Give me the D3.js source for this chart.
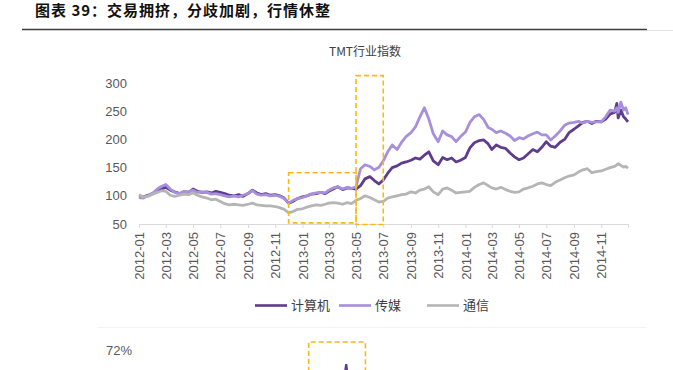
<!DOCTYPE html>
<html><head><meta charset="utf-8">
<script src="https://cdn.jsdelivr.net/npm/d3@7"></script>
<style>body{margin:0;background:#fff} svg{display:block}</style>
</head><body>
<svg id="c" width="673" height="370"></svg>
<script>
// ---- data ----
const titleText = "图表 39：交易拥挤，分歧加剧，行情休整";
const chartTitle = "TMT行业指数";
const seriesNames = ["计算机", "传媒", "通信"];
// sample days within each month (2012-01 .. 2014-11), then explicit Dec 2014 dates
const sampleDays = [1, 11, 21];
const decDates = ["2014-12-01","2014-12-06","2014-12-09","2014-12-15","2014-12-21","2014-12-26","2014-12-31"];
const computer = [
  100,98,101, 104,108,112, 115,110,107, 104,107,106, 112,108,106, 107,105,108, 106,104,101, 100,102,99, 104,110,105, 102,104,101, 102,100,96, 87,90,95,
  98,100,103, 104,106,104, 108,112,116, 111,114,113, 112,118,130, 134,127,121, 128,140,150, 153,158,160, 163,167,165, 172,178,162, 155,168,164, 167,160,163,
  168,185,194, 198,199,192, 182,190,186, 184,176,169, 164,167,174, 182,178,186, 196,188,186, 195,200,212, 218,224,230, 232,228,232, 231,236,245,
  248,264,238,252,240,236,231
];
const media = [
  97,96,100, 105,112,117, 120,112,106, 104,108,107, 110,106,107, 106,103,104, 102,100,98, 100,98,101, 104,109,103, 101,102,100, 101,99,95, 87,92,95,
  97,100,103, 105,106,105, 110,114,116, 112,115,113, 116,148,155, 152,146,150, 162,178,190, 182,195,205, 212,222,240, 256,236,210, 196,215,208, 205,196,205,
  213,230,240, 244,235,221, 218,212,215, 211,206,198, 203,201,206, 210,213,208, 208,199,206, 215,225,229, 230,232,229, 232,230,231, 231,240,252,
  250,256,248,266,252,256,244
];
const telecom = [
  102,98,99, 103,106,109, 108,101,99, 101,103,102, 105,101,98, 96,93,94, 90,86,84, 85,84,83, 85,87,84, 83,82,82, 81,79,76, 70,72,76,
  77,80,82, 84,83,85, 87,88,87, 85,88,86, 92,95,100, 97,93,89, 90,96,98, 100,102,103, 107,105,110, 112,116,107, 102,112,114, 110,105,106,
  107,108,115, 120,123,118, 114,112,115, 111,108,106, 107,112,114, 117,121,123, 120,118,124, 128,132,135, 137,142,146, 148,141,143, 144,147,150,
  152,155,157,154,151,152,149
];
const yTicks = [50, 100, 150, 200, 250, 300];
const xDomain = ["2012-01-01", "2014-12-31"];
const yDomain = [50, 300];
// highlight boxes (date range, value range)
const boxStart = ["2012-12-01", "2013-05-01"];
const boxEnd   = ["2013-05-01", "2013-07-01"];
const boxLow   = [52, 49];
const boxHigh  = [141, 313];
// second (cut-off) panel
const bottomTick = "72%";
const bottomBox = ["2013-01-15", "2013-05-22"];
const bottomDates = ["2013-04-05", "2013-04-09", "2013-04-13"];
const bottomValues = [40, 55, 38];

// ---- build ----
const parse = d3.timeParse("%Y-%m-%d");
const dates = [];
for (let y = 2012; y <= 2014; y++) {
  for (let m = 0; m < 12; m++) {
    if (y === 2014 && m === 11) break;
    sampleDays.forEach(d => dates.push(new Date(y, m, d)));
  }
}
decDates.forEach(s => dates.push(parse(s)));

const svg = d3.select("#c");
const colors = ["#5f3d8e", "#a88fdc", "#b5b5b5"];
const x = d3.scaleTime().domain(xDomain.map(parse)).range([139, 628]);
const y = d3.scaleLinear().domain(yDomain).range([224, 83]);

// page title
svg.append("text").attr("x", 35).attr("y", 16)
  .attr("font-family", "Noto Sans CJK SC").attr("font-weight", "bold")
  .attr("font-size", 15).attr("letter-spacing", 1).attr("fill", "#111").text(titleText);
svg.append("line").attr("x1", 22).attr("x2", 647).attr("y1", 29.5).attr("y2", 29.5)
  .attr("stroke", "#3c3c3c").attr("stroke-width", 1.3);
svg.append("line").attr("x1", 647).attr("x2", 673).attr("y1", 30.5).attr("y2", 30.5)
  .attr("stroke", "#e3e3e3").attr("stroke-width", 1);

// chart title
svg.append("text").attr("x", 365).attr("y", 56).attr("text-anchor", "middle")
  .attr("font-family", "Noto Sans CJK SC").attr("font-size", 12).attr("fill", "#404040")
  .text(chartTitle);

// y axis
const yAxis = svg.append("g").attr("transform", "translate(139,0)")
  .call(d3.axisLeft(y).tickValues(yTicks).tickSize(0).tickPadding(12));
yAxis.select(".domain").remove();
yAxis.selectAll("text").attr("font-family", "Liberation Sans, Arial").attr("font-size", 13).attr("fill", "#595959");

// x axis
const xTicks = d3.timeMonth.range(parse("2012-01-01"), parse("2014-12-02"), 2);
const xAxis = svg.append("g").attr("transform", "translate(0,224)")
  .call(d3.axisBottom(x).tickValues(xTicks).tickFormat(d3.timeFormat("%Y-%m")).tickSize(4));
xAxis.select(".domain").attr("stroke", "#d9d9d9");
xAxis.selectAll(".tick line").attr("stroke", "#d9d9d9");
xAxis.selectAll("text")
  .attr("font-family", "Liberation Sans, Arial").attr("font-size", 13).attr("fill", "#595959")
  .attr("transform", "rotate(-90)").attr("text-anchor", "end")
  .attr("x", -8).attr("y", 0).attr("dy", "0.35em");

// lines
const series = [computer, media, telecom];
const line = d3.line().x((d, i) => x(dates[i])).y(d => y(d));
series.forEach((s, k) => {
  svg.append("path").datum(s).attr("d", line)
    .attr("fill", "none").attr("stroke", colors[k]).attr("stroke-width", 2.8)
    .attr("stroke-linejoin", "round");
});

// dashed boxes
boxStart.forEach((s, i) => {
  const x0 = x(parse(s)), x1 = x(parse(boxEnd[i]));
  const y0 = y(boxHigh[i]), y1 = y(boxLow[i]);
  svg.append("rect").attr("x", x0).attr("y", y0).attr("width", x1 - x0).attr("height", y1 - y0)
    .attr("fill", "none").attr("stroke", "#f6bb10").attr("stroke-width", 1.6)
    .attr("stroke-dasharray", "5,3");
});

// legend
const legendX = [255, 339, 427];
seriesNames.forEach((n, i) => {
  svg.append("line").attr("x1", legendX[i]).attr("x2", legendX[i] + 32)
    .attr("y1", 305.5).attr("y2", 305.5).attr("stroke", colors[i]).attr("stroke-width", 2.6);
  svg.append("text").attr("x", legendX[i] + 36).attr("y", 310)
    .attr("font-family", "Noto Sans CJK SC").attr("font-size", 13).attr("fill", "#404040").text(n);
});

// bottom (cut-off) second chart
svg.append("line").attr("x1", 97).attr("x2", 647).attr("y1", 327.5).attr("y2", 327.5)
  .attr("stroke", "#f3f3f3").attr("stroke-width", 1);
svg.append("text").attr("x", 106).attr("y", 355)
  .attr("font-family", "Liberation Sans Narrow, Liberation Sans").attr("font-size", 13)
  .attr("fill", "#595959").text(bottomTick);
const yB = d3.scaleLinear().domain([72, 0]).range([350, 410]);
svg.append("path")
  .attr("d", `M${x(parse(bottomBox[0]))},${420}V342H${x(parse(bottomBox[1]))}V420`)
  .attr("fill", "none").attr("stroke", "#f6bb10").attr("stroke-width", 1.6).attr("stroke-dasharray", "5,3");
svg.append("path").datum(bottomValues)
  .attr("d", d3.line().x((d, i) => x(parse(bottomDates[i]))).y(d => yB(d)))
  .attr("fill", "none").attr("stroke", colors[0]).attr("stroke-width", 2.2);
</script>
</body></html>
